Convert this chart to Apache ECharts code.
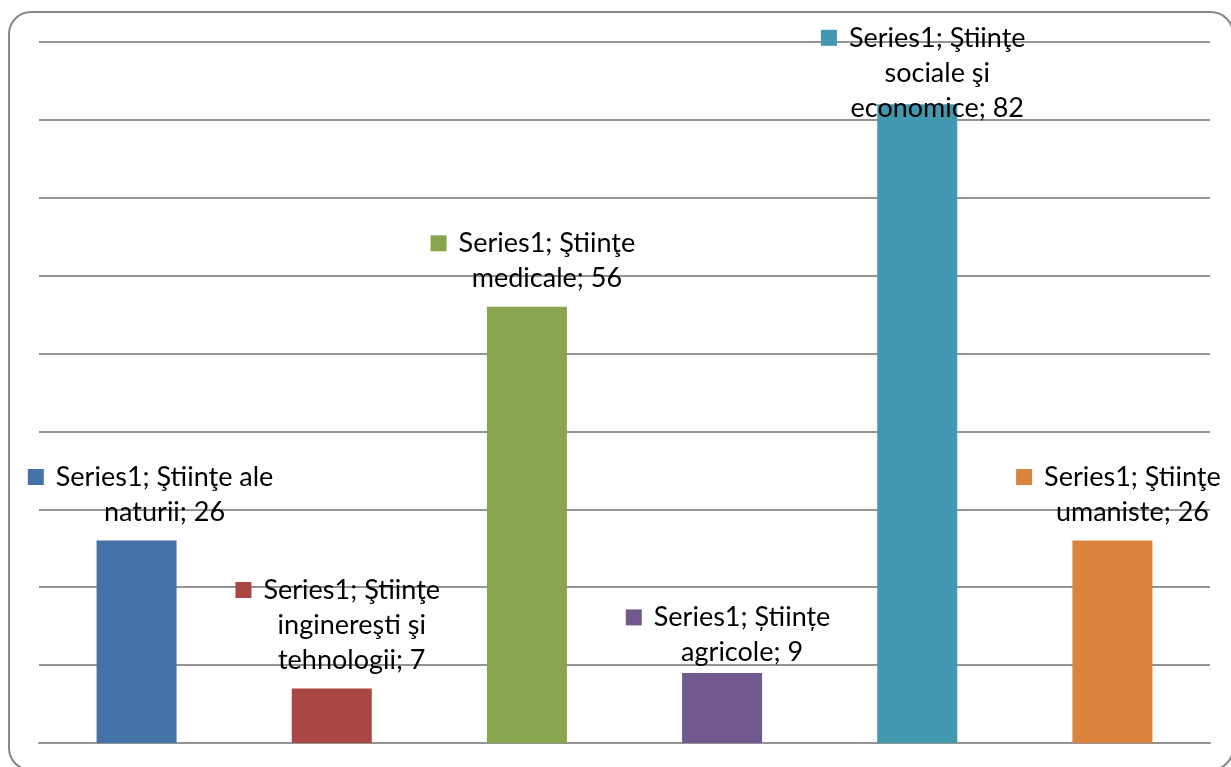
<!DOCTYPE html>
<html>
<head>
<meta charset="utf-8">
<script src="https://cdn.jsdelivr.net/npm/echarts@6/dist/echarts.min.js"></script>
<style>
html,body{margin:0;padding:0;background:#fff;}
#c{width:1231px;height:767px;}
</style>
</head>
<body>
<div id="c"></div>
<script>
var seriesName = 'Series1';
var categories = [
  'Ştiinţe ale\nnaturii',
  'Ştiinţe\ninginereşti şi\ntehnologii',
  'Ştiinţe\nmedicale',
  'Științe\nagricole',
  'Ştiinţe\nsociale şi\neconomice',
  'Ştiinţe\numaniste'
];
var values = [26, 7, 56, 9, 82, 26];
var palette = ['#4572A7', '#AA4643', '#89A54E', '#71588F', '#4198AF', '#DB843D'];
var labelOffsets = [[14, 0], [6, 0], [6, 0], [6, 8], [6, 32], [6, 0]];

var chart = echarts.init(document.getElementById('c'));

var data = values.map(function (v, i) {
  return {
    value: v,
    itemStyle: { color: palette[i] },
    label: {
      offset: labelOffsets[i],
      rich: {
        sq: { width: 16, height: 16, backgroundColor: palette[i] },
        g: { width: 12 },
        sp: { width: 28 },
        t: { fontFamily: 'Lato', fontSize: 27, color: '#000', lineHeight: 35 }
      }
    }
  };
});

chart.setOption({
  animation: false,
  grid: { left: 39, right: 21, top: 42, bottom: 24, containLabel: false },
  graphic: [{
    type: 'rect',
    shape: { x: 9, y: 12, width: 1224, height: 758, r: 22 },
    style: { fill: 'none', stroke: '#888888', lineWidth: 2 },
    silent: true,
    z: 100
  }],
  xAxis: {
    type: 'category',
    data: categories,
    axisLine: { show: true, lineStyle: { color: '#949494', width: 2 } },
    axisTick: { show: false },
    axisLabel: { show: false }
  },
  yAxis: {
    type: 'value',
    min: 0,
    max: 90,
    interval: 10,
    axisLine: { show: false },
    axisTick: { show: false },
    axisLabel: { show: false },
    splitLine: { show: true, lineStyle: { color: '#949494', width: 2 } }
  },
  series: [{
    name: seriesName,
    type: 'bar',
    barWidth: 80,
    data: data,
    label: {
      show: true,
      position: 'top',
      distance: 11,
      align: 'center',
      lineHeight: 35,
      formatter: function (p) {
        var full = p.seriesName + '; ' + p.name + '; ' + p.value;
        var lines = full.split('\n');
        return lines.map(function (l, i) {
          return (i === 0 ? '{sq|}{g|}' : '{sp|}') + '{t|' + l + '}';
        }).join('\n');
      }
    }
  }]
});
</script>
</body>
</html>
